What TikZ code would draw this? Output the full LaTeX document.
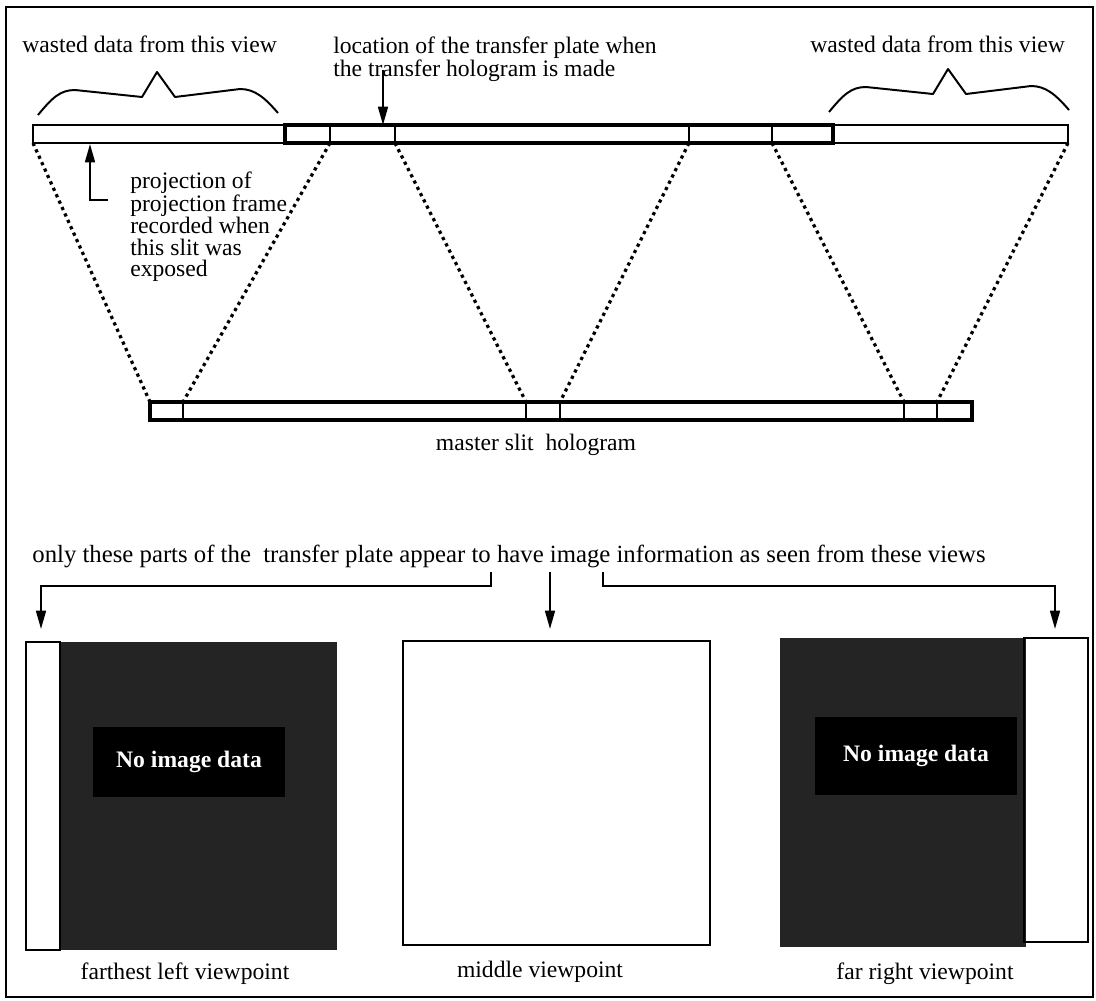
\documentclass[tikz,border=0pt]{standalone}
\usepackage{fontspec}
\setmainfont{Liberation Serif}
\usetikzlibrary{arrows.meta}

\begin{document}
\begin{tikzpicture}[x=0.025cm,y=-0.025cm,
  lbl/.style={inner sep=0pt,font=\fontsize{16.8}{15.3}\selectfont},
  ray/.style={line width=2.3pt,dash pattern=on 2.3pt off 2.7pt},
  ptr/.style={line width=1.4pt,-{Triangle[length=13pt,width=7pt]}},
  bracepath/.style={line width=1.4pt,line join=round},
  nodata/.style={fill=black,text=white,inner sep=0pt,font=\fontsize{16.8}{18}\selectfont\bfseries}]
\useasboundingbox (0,0) rectangle (1096,1000);
\draw[line width=0.8pt] (6,7) rectangle (1093,997);

\draw[line width=1.4pt] (33,125) rectangle (1068,143);
\draw[line width=2.4pt] (285,125) rectangle (833,143);
\foreach \x in {330,395,689,772}
  \draw[line width=1.4pt] (\x,125) -- (\x,143);
\draw[line width=2.8pt] (150,402) rectangle (972,420);
\foreach \x in {183,526,560,904,937}
  \draw[line width=1.6pt] (\x,402) -- (\x,420);

\foreach \x [count=\i] in {33,330,395,689,772,1068}
  \coordinate (p\i) at (\x,143);
\foreach \x [count=\i] in {150,183,526,560,904,937}
  \coordinate (m\i) at (\x,402);
\foreach \i in {1,...,6}
  \draw[ray] (p\i) -- (m\i);

\foreach \dx/\dy in {0/0,791/-3}
  \draw[bracepath,shift={(\dx,\dy)}] (38,115) .. controls (52,98) and (60,90) .. (75,90)
    -- (142,97) -- (157,72) -- (175,97) -- (240,89) .. controls (255,89) and (265,98) .. (278,113);

\node[lbl,anchor=base west] (wasteL) at (22,52) {wasted data from this view};
\node[lbl,anchor=base west] (wasteR) at (810,52) {wasted data from this view};
\node[lbl,anchor=north west,align=left,font=\fontsize{16.8}{14.4}\selectfont] (loc) at (333,37)
  {location of the transfer plate when\\the transfer hologram is made};
\node[lbl,anchor=north west,align=left] (proj) at (130,172)
  {projection of\\projection frame\\recorded when\\this slit was\\exposed};
\node[lbl] (master) at (536,445) {master slit\ \ hologram};

\coordinate (locfoot) at (383,70);
\coordinate (loctip) at (383,125);
\draw[ptr] (locfoot) -- (loctip);
\coordinate (projfoot) at (108,200);
\coordinate (projtip) at (90,144);
\draw[ptr] (projfoot) -| (projtip);

\node[lbl,anchor=base,font=\fontsize{17.6}{18}\selectfont] (only) at (509,562)
  {only these parts of the\ \ transfer plate appear to have image information as seen from these views};
\coordinate (leftfoot) at (491,572);
\coordinate (midfoot) at (550,572);
\coordinate (rightfoot) at (603,572);
\coordinate (lefttip) at (41,629);
\coordinate (midtip) at (550,629);
\coordinate (righttip) at (1055,629);
\draw[ptr] (leftfoot) -- (491,586) -| (lefttip);
\draw[ptr] (midfoot) -- (midtip);
\draw[ptr] (rightfoot) -- (603,586) -| (righttip);

\fill[black!86] (60,642) rectangle (337,950);
\draw[line width=1.2pt] (26,642) rectangle (60,950);
\node[nodata,minimum width=4.8cm,minimum height=1.73cm] (nodataL) at (189,762) {No image data};
\draw[line width=1.2pt] (403,641) rectangle (710,945);
\fill[black!86] (780,638) rectangle (1026,947);
\draw[line width=1.2pt] (1024,638) rectangle (1088,942);
\node[nodata,minimum width=5.05cm,minimum height=1.95cm] (nodataR) at (916,756) {No image data};

\node[lbl] (capL) at (185,974) {farthest left viewpoint};
\node[lbl] (capM) at (540,972) {middle viewpoint};
\node[lbl] (capR) at (925,974) {far right viewpoint};
\end{tikzpicture}
\end{document}
